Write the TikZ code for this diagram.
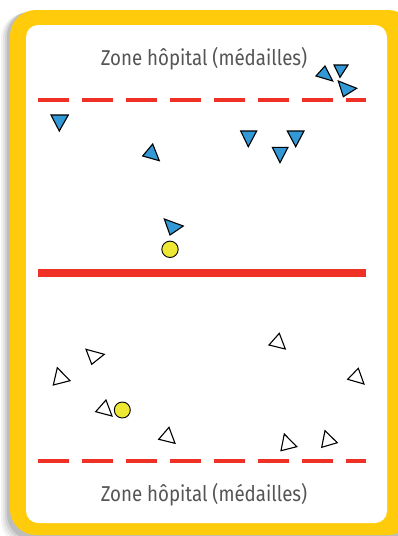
\documentclass[tikz,border=0pt]{standalone}
\usepackage{fontspec}
\setmainfont{Fira Sans}
\definecolor{cardyellow}{HTML}{FFCB0A}
\definecolor{linered}{HTML}{EE3124}
\definecolor{teamblue}{HTML}{3399D6}
\definecolor{ballyellow}{HTML}{EEE835}
\definecolor{textgray}{HTML}{555555}
\tikzset{
  bluetri/.style={fill=teamblue,draw=black,line width=1.1pt,line join=miter},
  whitetri/.style={fill=white,draw=black,line width=1.1pt,line join=miter},
  ball/.style={fill=ballyellow,draw=black,line width=0.9pt},
  dashline/.style={draw=linered,line width=4pt,dash pattern=on 31pt off 13pt},
  zonelabel/.style={text=textgray,font=\fontsize{21.5}{24}\selectfont,inner sep=0pt,anchor=base}
}
\newcommand{\mytri}[4]{\draw[#1] #2 -- #3 -- #4 -- cycle;}
\begin{document}
\begin{tikzpicture}[x=1pt,y=-1pt]
\useasboundingbox (0,0) rectangle (398,536);
% shadow
\foreach \o/\a in {9/0.05,7/0.06,5/0.08,3/0.1}{
  \fill[black,opacity=\a,rounded corners=26pt] (10-\o,10+\o*0.3) rectangle (412,537+\o);
}
% card
\fill[cardyellow,rounded corners=26pt] (10,10) rectangle (414,535);
\fill[white,rounded corners=12pt] (26,25) rectangle (387,523);
% lines
\draw[dashline] (38,100) -- (366,100);
\draw[dashline] (38,461) -- (366,461);
\draw[linered,line width=7.5pt] (38,273) -- (366,273);
% labels
\node[zonelabel] (ztop) at (204,65) {\scalebox{0.87}[1]{Zone hôpital (médailles)}};
\node[zonelabel] (zbot) at (204,501) {\scalebox{0.87}[1]{Zone hôpital (médailles)}};
% blue team
\mytri{bluetri}{(325,66)}{(316,76)}{(332.7,81)}
\mytri{bluetri}{(334,65)}{(348,65)}{(340,77.3)}
\mytri{bluetri}{(338.3,81)}{(356.7,88.3)}{(343.3,96.7)}
\mytri{bluetri}{(51,115)}{(68.3,115)}{(59.3,131)}
\mytri{bluetri}{(152.7,144)}{(142.7,156)}{(159.3,160.7)}
\mytri{bluetri}{(240.7,131)}{(256.7,131)}{(248.3,146.7)}
\mytri{bluetri}{(287.3,131)}{(304,131)}{(295.7,146.7)}
\mytri{bluetri}{(272.3,147.3)}{(288,147.3)}{(280,162.7)}
\mytri{bluetri}{(164.3,219)}{(183.3,226)}{(170,235)}
\draw[ball] (170,249.3) circle (8.2pt);
% white team
\mytri{whitetri}{(279.3,333.3)}{(269,345)}{(285.3,349)}
\mytri{whitetri}{(86,349.3)}{(104.3,354.3)}{(91.7,364.3)}
\mytri{whitetri}{(57.3,367.7)}{(70,380.7)}{(53.3,385)}
\mytri{whitetri}{(358.3,368.3)}{(347.7,379.3)}{(364,384)}
\mytri{whitetri}{(106,400)}{(95.7,411.7)}{(112,416)}
\draw[ball] (122.3,410) circle (8pt);
\mytri{whitetri}{(169,427.3)}{(158.7,439.3)}{(175,443.3)}
\mytri{whitetri}{(284.3,434)}{(296.7,446.7)}{(281,450.7)}
\mytri{whitetri}{(325,430.7)}{(337.3,442.7)}{(321.7,447.3)}
\end{tikzpicture}
\end{document}
